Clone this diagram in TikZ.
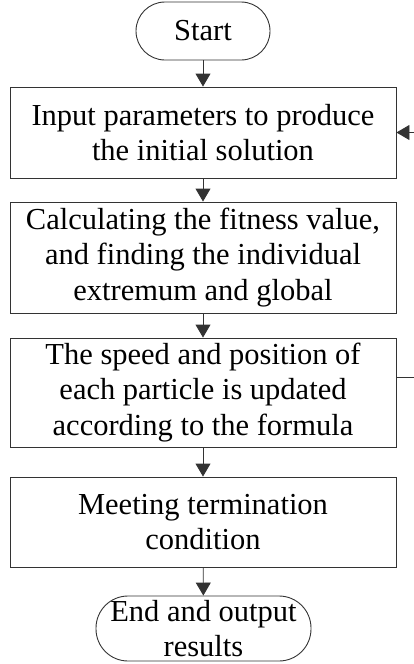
\documentclass[tikz,border=0pt]{standalone}
\usepackage{fontspec}
\setmainfont{Liberation Serif}
\usetikzlibrary{arrows.meta}
\begin{document}
\begin{tikzpicture}[x=1pt,y=-1pt,
  every node/.style={font=\fontsize{30.5}{35.5}\selectfont, inner sep=0pt, align=center, text=black},
  box/.style={draw=black!80, line width=0.9pt, rectangle, minimum width=386pt},
  term/.style={draw=black!80, line width=0.9pt, rectangle},
  arr/.style={draw=black!80, line width=0.9pt, -{Triangle[width=15pt,length=13pt]}}]
\useasboundingbox (0,0) rectangle (414,664);
\node[term, rounded corners=29pt, minimum width=134pt, minimum height=58pt] (start) at (203,31) {Start};
\node[box, minimum height=91pt] (b1) at (203,132.5) {Input parameters to produce\\the initial solution};
\node[box, minimum height=111pt] (b2) at (203,257.5) {Calculating the fitness value,\\and finding the individual\\extremum and global};
\node[box, minimum height=109pt] (b3) at (203,392.5) {The speed and position of\\each particle is updated\\according to the formula};
\node[box, minimum height=90pt] (b4) at (203,522) {Meeting termination\\condition};
\node[term, rounded corners=32pt, minimum width=215pt, minimum height=65pt] (end) at (203.5,628.5) {End and output\\results};
\coordinate (fbout) at (414,377);
\coordinate (fbin) at (414,132.5);
\draw[arr] (start) -- (b1);
\draw[arr] (b1) -- (b2);
\draw[arr] (b2) -- (b3);
\draw[arr] (b3) -- (b4);
\draw[arr] (b4) -- (end);
\draw[draw=black!80, line width=0.9pt] (b3.east |- fbout) -- (fbout);
\draw[arr] (fbin) -- (b1.east);
\end{tikzpicture}
\end{document}
